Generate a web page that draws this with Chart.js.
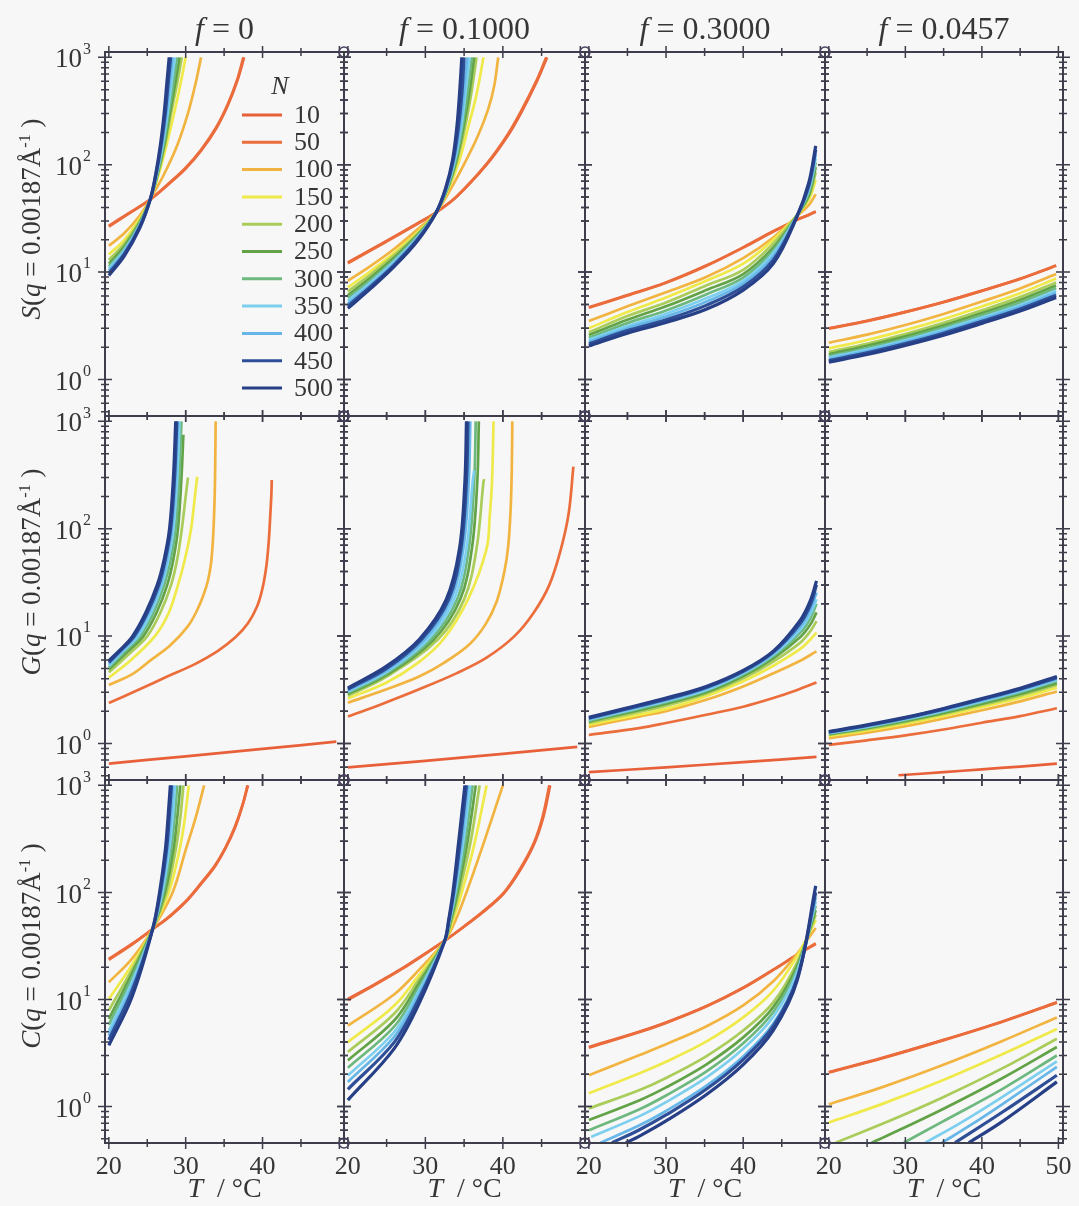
<!DOCTYPE html>
<html>
<head>
<meta charset="utf-8">
<title>S, G, C at q = 0.00187 vs T</title>
<script src="https://cdn.jsdelivr.net/npm/chart.js"></script>
<style>
    body { margin: 0; background: #f7f7f7; }
    #page {
        position: relative; width: 1079px; height: 1206px; overflow: hidden;
        font-family: "Liberation Serif", "DejaVu Serif", serif; color: #363636;
    }
    canvas.panel { position: absolute; }
    .txt { position: absolute; white-space: nowrap; line-height: 1; }
    .coltitle { font-size: 32px; top: 12px; transform: translateX(-50%); }
    .xtitle { font-size: 28px; top: 1174px; transform: translateX(-50%); }
    .ytitle { font-size: 27px; transform: translate(-50%, -50%) rotate(-90deg); }
    sup { font-size: 60%; }
</style>
</head>
<body>
<div id="page"></div>

<script>
// ---- data: one [T, value] list per N ----
const N_LIST = [10, 50, 100, 150, 200, 250, 300, 350, 400, 450, 500];
const F_LABELS = ['0', '0.1000', '0.3000', '0.0457'];
const ROW_LETTERS = ['S', 'G', 'C'];
const X_TICKS = [20, 25, 30, 35, 40, 45, 50];
const Y_MAJOR = [1, 10, 100, 1000];
const Y_EXP = ['0', '1', '2', '3'];
const Y_MINOR = [0.5, 0.6, 0.7, 0.8, 0.9, 2, 3, 4, 5, 6, 7, 8, 9,
                 20, 30, 40, 50, 60, 70, 80, 90, 200, 300, 400, 500, 600, 700, 800, 900];

// S, f = 0
const S_F0000 = [
    [[20,27],[22.5,35],[25.4,47.5],[28,68],[30,92],[32,135],[34,220],[35.5,360],[36.7,600],[37.6,1000]],
    [[20,26.5],[22.5,34.6],[25.4,47.5],[28,69],[30,94],[32,138],[34,225],[35.5,370],[36.7,620],[37.5,1000]],
    [[20,17.6],[22,23],[24,33.5],[25.4,48],[27.2,82],[28.9,152],[30.3,303],[31.3,578],[32,1000]],
    [[20,14.6],[22,19.9],[24,31.2],[25.4,48],[26.5,82],[27.5,152],[28.5,303],[29.35,578],[30,1000]],
    [[20,13],[22,18.3],[24,29.8],[25.4,48],[26.4,82],[27.3,152],[28.1,303],[28.9,578],[29.5,1000]],
    [[20,12],[22,17.3],[24,28.8],[25.4,48],[26.35,82],[27.2,152],[27.95,303],[28.65,578],[29.2,1000]],
    [[20,11.3],[22,16.5],[24,28],[25.4,48],[26.3,82],[27.1,152],[27.8,303],[28.4,578],[28.9,1000]],
    [[20,10.8],[22,15.9],[24,27.4],[25.4,48],[26.25,82],[27,152],[27.65,303],[28.15,578],[28.6,1000]],
    [[20,10.3],[22,15.3],[24,26.8],[25.4,48],[26.2,82],[26.9,152],[27.5,303],[27.93,578],[28.3,1000]],
    [[20,9.8],[22,14.7],[24,26.2],[25.4,48],[26.15,82],[26.8,152],[27.35,303],[27.72,578],[28.05,1000]],
    [[20,9.3],[22,14.1],[24,25.6],[25.4,48],[26.1,82],[26.7,152],[27.2,303],[27.55,578],[27.85,1000]]
];
// S, f = 0.1000
const S_F1000 = [
    [[20,12.3],[25,19.5],[29.2,29],[31.4,36],[34,50],[37.9,100],[40.5,180],[42.3,300],[44.4,600],[45.7,1000]],
    [[20,12.1],[25,19.3],[29.2,28.8],[31.4,36],[34,50.5],[37.9,102],[40.5,185],[42.3,310],[44.4,620],[45.6,1000]],
    [[20,8.3],[23,11.5],[26,16.5],[29,25],[31.4,36],[33.3,60],[34.9,98],[36.7,180],[38.1,328],[38.9,550],[39.4,1000]],
    [[20,7.2],[23,10.3],[26,15.2],[29,23.5],[31.4,36],[33,60],[34.4,110],[35.5,220],[36.6,450],[37.5,1000]],
    [[20,6.6],[23,9.6],[26,14.4],[29,22.8],[31.4,36],[32.9,60],[34.1,110],[35.1,220],[35.9,450],[36.6,1000]],
    [[20,6.1],[23,9.0],[26,13.7],[29,22.2],[31.4,36],[32.85,60],[34,110],[34.9,220],[35.65,450],[36.3,1000]],
    [[20,5.75],[23,8.5],[26,13.1],[29,21.7],[31.4,36],[32.8,60],[33.9,110],[34.75,220],[35.4,450],[36,1000]],
    [[20,5.4],[23,8.1],[26,12.6],[29,21.2],[31.4,36],[32.75,60],[33.8,110],[34.6,220],[35.15,450],[35.7,1000]],
    [[20,5.1],[23,7.7],[26,12.1],[29,20.7],[31.4,36],[32.7,60],[33.7,110],[34.45,220],[34.95,450],[35.4,1000]],
    [[20,4.85],[23,7.4],[26,11.7],[29,20.2],[31.4,36],[32.65,60],[33.6,110],[34.25,220],[34.7,450],[35,1000]],
    [[20,4.6],[23,7.1],[26,11.3],[29,19.6],[31.4,36],[32.6,60],[33.5,110],[34.05,220],[34.4,450],[34.7,1000]]
];
// S, f = 0.3000 (common T grid)
const S_F3000_T = [20, 25, 30, 35.2, 40, 43.9, 46.9, 48.5, 49.4];
const S_F3000_V = [
    [4.7, 6.1, 8, 11.5, 17, 24, 30.5, 34, 36.5],
    [4.65, 6.05, 7.95, 11.4, 16.9, 23.9, 30.6, 34.2, 36.8],
    [3.5, 4.8, 6.5, 9, 13.5, 21, 33, 42, 53],
    [3.0, 4.25, 5.8, 8.3, 12, 20, 33.5, 47, 72],
    [2.75, 3.9, 5.2, 7.5, 10.5, 18.5, 33.5, 50, 85],
    [2.6, 3.6, 4.8, 6.8, 9.6, 17, 33, 52, 95],
    [2.45, 3.35, 4.4, 6.2, 8.9, 16, 33, 55, 105],
    [2.35, 3.15, 4.1, 5.7, 8.3, 15, 33, 58, 115],
    [2.25, 3.0, 3.85, 5.3, 7.8, 14, 32.5, 61, 125],
    [2.15, 2.85, 3.6, 4.9, 7.3, 13, 32.5, 64, 138],
    [2.05, 2.7, 3.4, 4.5, 6.8, 12, 32, 68, 150]
];
// S, f = 0.0457
const S_F0457_T = [20, 25, 30, 35, 40, 45, 49.7];
const S_F0457_V = [
    [3.0, 3.52, 4.26, 5.27, 6.71, 8.67, 11.5],
    [2.98, 3.5, 4.24, 5.25, 6.69, 8.65, 11.45],
    [2.2, 2.62, 3.22, 4.08, 5.32, 7.05, 9.6],
    [1.95, 2.33, 2.88, 3.66, 4.79, 6.37, 8.71],
    [1.8, 2.15, 2.65, 3.37, 4.41, 5.85, 8.0],
    [1.72, 2.06, 2.52, 3.19, 4.16, 5.51, 7.5],
    [1.65, 1.96, 2.41, 3.04, 3.95, 5.22, 7.1],
    [1.6, 1.90, 2.32, 2.92, 3.78, 4.95, 6.7],
    [1.55, 1.84, 2.24, 2.81, 3.63, 4.75, 6.4],
    [1.5, 1.77, 2.16, 2.70, 3.48, 4.54, 6.1],
    [1.45, 1.71, 2.08, 2.59, 3.33, 4.34, 5.8]
];

// G, f = 0
const G_F0000 = [
    [[20,0.65],[30,0.76],[40,0.89],[49.6,1.04]],
    [[20,2.38],[24,3.2],[27.6,4.2],[31,5.4],[34.2,7.3],[36.5,9.8],[38.1,13.2],[39.3,19],[40,28],[40.5,45],[40.8,75],[41,130],[41.15,210],[41.2,284]],
    [[20,3.5],[23,4.4],[25.5,6.0],[28,8.2],[30.3,12.4],[31.5,17.5],[32.3,24],[32.9,33],[33.3,48],[33.55,80],[33.72,150],[33.82,300],[33.9,1000]],
    [[20,4.1],[23,6.1],[26,10],[27.8,16.5],[29,30],[29.9,52],[30.7,100],[31.2,200],[31.5,305]],
    [[20,4.6],[22.7,6.9],[25,10],[26.7,16.5],[28.1,30],[28.9,52],[29.5,100],[30,200],[30.3,300]],
    [[20,4.9],[22.4,7.1],[24.5,10],[26.2,16.5],[27.6,30],[28.4,52],[29,100],[29.45,300],[29.7,750]],
    [[20,5.1],[22.2,7.3],[24.1,10],[25.8,16.5],[27.2,30],[28.05,52],[28.7,100],[29.15,300],[29.45,1000]],
    [[20,5.3],[22,7.4],[23.8,10],[25.5,16.5],[26.9,30],[27.75,52],[28.4,100],[28.9,300],[29.2,1000]],
    [[20,5.5],[21.9,7.5],[23.5,10],[25.2,16.5],[26.7,30],[27.55,52],[28.2,100],[28.7,300],[29,1000]],
    [[20,5.7],[21.7,7.55],[23.3,10],[25,16.5],[26.5,30],[27.35,52],[28.05,100],[28.55,300],[28.85,1000]],
    [[20,5.9],[21.6,7.6],[23.1,10],[24.8,16.5],[26.3,30],[27.2,52],[27.9,100],[28.4,300],[28.7,1000]]
];
// G, f = 0.1000
const G_F1000 = [
    [[20,0.6],[30,0.69],[40,0.8],[49.6,0.93]],
    [[20,1.78],[24.5,2.35],[29.2,3.2],[34,4.5],[37.9,6.3],[41.5,10],[44,16.6],[46,30],[47.5,65],[48.5,140],[49.1,378]],
    [[20,2.4],[25,3.2],[29.2,4.2],[32.5,5.7],[35.7,8.4],[37.8,13],[39.2,21],[40.2,40],[40.7,70],[41,150],[41.15,350],[41.22,1000]],
    [[20,2.62],[25,3.7],[29,5.6],[32.3,9.3],[35.5,22],[37.9,65],[38.3,130],[38.6,274],[38.8,1000]],
    [[20,2.78],[25,4.2],[31.6,9.3],[35,22],[36.6,65],[37.5,274],[37.6,290]],
    [[20,2.88],[25,4.35],[31.1,9.3],[34.5,22],[36,65],[36.7,274],[36.9,1000]],
    [[20,2.97],[25,4.5],[30.7,9.3],[34.1,22],[35.6,65],[36.3,274],[36.5,1000]],
    [[20,3.05],[25,4.65],[30.3,9.3],[33.7,22],[35.3,65],[36.1,274],[36.3,350]],
    [[20,3.12],[25,4.8],[29.9,9.3],[33.3,22],[34.9,65],[35.6,274],[35.8,1000]],
    [[20,3.2],[25,5.0],[29.5,9.3],[33,22],[34.6,65],[35.3,274],[35.5,1000]],
    [[20,3.3],[24.9,5.2],[29.2,9.3],[32.7,22],[34.4,65],[35.1,274],[35.3,1000]]
];
// G, f = 0.3000
const G_F3000_T = [20, 30, 35.2, 40, 43.9, 47.4, 48.7, 49.5];
const G_F3000_LOW = [
    [[20,0.54],[30,0.6],[40,0.67],[49.5,0.75]],
    [[20,1.2],[26.5,1.39],[30,1.55],[35.2,1.85],[40,2.2],[43.9,2.65],[47,3.15],[49.5,3.7]],
    [[20,1.43],[26.5,1.78],[30,2.0],[35.2,2.55],[40,3.4],[43.9,4.5],[47,5.7],[49.5,7.2]]
];
const G_F3000_V = [
    [1.5, 2.1, 2.75, 3.8, 5.3, 7.6, 9.3, 10.8],
    [1.55, 2.25, 2.9, 4.05, 5.8, 8.7, 11.1, 13.8],
    [1.6, 2.35, 3.0, 4.25, 6.2, 9.8, 12.8, 16.6],
    [1.63, 2.42, 3.1, 4.4, 6.5, 10.8, 14.6, 20],
    [1.66, 2.48, 3.15, 4.5, 6.7, 11.5, 16, 22],
    [1.69, 2.53, 3.25, 4.6, 6.9, 12.3, 17.7, 25.5],
    [1.72, 2.58, 3.32, 4.7, 7.1, 13.2, 19.5, 30],
    [1.75, 2.65, 3.4, 4.8, 7.25, 14.1, 21.4, 32.7]
];
// G, f = 0.0457
const G_F0457_T = [20, 25, 30, 35, 40, 45, 49.8];
const G_F0457_N10 = [[29.1,0.506],[35,0.54],[40,0.575],[45,0.61],[49.8,0.65]];
const G_F0457_V = [
    [0.97, 1.07, 1.19, 1.35, 1.56, 1.80, 2.13],
    [1.12, 1.26, 1.45, 1.71, 2.04, 2.47, 3.05],
    [1.17, 1.32, 1.53, 1.81, 2.18, 2.65, 3.3],
    [1.2, 1.36, 1.58, 1.88, 2.28, 2.79, 3.5],
    [1.22, 1.39, 1.62, 1.93, 2.35, 2.90, 3.65],
    [1.24, 1.42, 1.66, 1.99, 2.43, 3.01, 3.8],
    [1.25, 1.43, 1.68, 2.01, 2.47, 3.07, 3.9],
    [1.26, 1.45, 1.70, 2.05, 2.52, 3.14, 4.0],
    [1.28, 1.47, 1.73, 2.09, 2.58, 3.21, 4.1],
    [1.29, 1.49, 1.75, 2.12, 2.62, 3.27, 4.2]
];

// C, f = 0
const C_F0000 = [
    [[20,23.9],[23,33],[25.7,45.4],[28,60],[30.3,86],[32,120],[33.8,175],[35.2,260],[36.4,400],[37.4,650],[38.1,1000]],
    [[20,23.5],[23,32.6],[25.7,45.4],[28,61],[30.3,87],[32,122],[33.8,178],[35.2,265],[36.4,410],[37.4,660],[38.05,1000]],
    [[20,14.5],[23,24],[25.7,45.4],[28.3,100],[30,250],[31.3,500],[32.4,1000]],
    [[20,10.1],[23,21],[25.7,45.4],[27.8,100],[29.2,250],[29.9,500],[30.4,1000]],
    [[20,7.9],[23,19],[25.7,45.4],[27.5,100],[28.7,250],[29.3,500],[29.7,1000]],
    [[20,6.6],[23,17.5],[25.7,45.4],[27.3,100],[28.4,250],[28.9,500],[29.3,1000]],
    [[20,5.8],[23,16],[25.7,45.4],[27.1,100],[28.1,250],[28.55,500],[28.9,1000]],
    [[20,5.1],[23,14.5],[25.7,45.4],[26.95,100],[27.85,250],[28.3,500],[28.6,1000]],
    [[20,4.6],[23,13],[25.7,45.4],[26.8,100],[27.65,250],[28.05,500],[28.35,1000]],
    [[20,4.2],[23,12],[25.7,45.4],[26.7,100],[27.5,250],[27.85,500],[28.15,1000]],
    [[20,3.73],[23,10.5],[25.7,45.4],[26.6,100],[27.35,250],[27.7,500],[28,1000]]
];
// C, f = 0.1000
const C_F1000 = [
    [[20,10.1],[23.5,13.9],[27,19.5],[30,26.9],[32.5,35.4],[35,47.8],[37.5,65.9],[40.1,97.5],[42.2,160],[44,280],[45.2,500],[46.1,1000]],
    [[20,9.9],[23.5,13.7],[27,19.3],[30,26.7],[32.5,35.4],[35,48.3],[37.5,67],[40.1,99],[42.2,165],[44,290],[45.1,500],[46,1000]],
    [[20,5.7],[26,11.2],[29.2,19],[32.5,35.4],[33.9,55],[35.3,100],[37.6,300],[40,1000]],
    [[20,4.0],[26,8.8],[29.2,17],[32.5,35.4],[33.55,55],[34.7,100],[36.4,300],[37.9,1000]],
    [[20,3.24],[26,7.4],[29.2,15.5],[32.5,35.4],[33.4,55],[34.35,100],[35.85,300],[37,1000]],
    [[20,2.7],[26,6.4],[29.2,14.3],[32.5,35.4],[33.3,55],[34.15,100],[35.45,300],[36.5,1000]],
    [[20,2.3],[26,5.6],[29.2,13.2],[32.5,35.4],[33.2,55],[34,100],[35.15,300],[36.1,1000]],
    [[20,1.95],[26,5.0],[29.2,12.2],[32.5,35.4],[33.15,55],[33.85,100],[34.9,300],[35.8,1000]],
    [[20,1.7],[26,4.5],[29.2,11.2],[32.5,35.4],[33.1,55],[33.75,100],[34.7,300],[35.5,1000]],
    [[20,1.45],[26,4.0],[29.2,10.3],[32.5,35.4],[33.05,55],[33.65,100],[34.5,300],[35.3,1000]],
    [[20,1.15],[26,3.5],[29.2,9.2],[32.5,35.4],[33,55],[33.55,100],[34.3,300],[35.1,1000]]
];
// C, f = 0.3000
const C_F3000_T = [26.5, 30, 35.2, 40, 43.9, 47, 49.4];
const C_F3000_START = [[20,3.6],[20,3.55],[20,1.96],[20,1.33],[20,0.96],[20,0.75],[20,0.6],[20.3,0.52],[21.5,0.46],[23,0.46],[24.8,0.46]];
const C_F3000_V = [
    [5.0, 6.1, 8.65, 12.9, 19, 26.2, 33],
    [4.95, 6.05, 8.6, 12.8, 18.9, 26.3, 33.5],
    [3.02, 3.82, 5.6, 8.8, 14.8, 26.8, 46.6],
    [2.04, 2.62, 4.04, 6.8, 12.1, 25.5, 55],
    [1.42, 1.85, 2.95, 5.13, 9.4, 22.2, 62],
    [1.14, 1.51, 2.47, 4.43, 8.5, 20.7, 68],
    [0.94, 1.27, 2.12, 3.9, 7.65, 19.4, 75],
    [0.81, 1.10, 1.86, 3.46, 6.9, 18.1, 82],
    [0.665, 0.91, 1.56, 2.94, 5.97, 16.2, 90],
    [0.605, 0.835, 1.45, 2.75, 5.64, 15.9, 100],
    [0.527, 0.734, 1.29, 2.47, 5.16, 15.1, 115]
];
// C, f = 0.0457
const C_F0457 = [
    [[20,2.1],[27,2.85],[34.8,4.15],[42.6,6.2],[49.8,9.4]],
    [[20,2.08],[27,2.83],[34.8,4.13],[42.6,6.17],[49.8,9.35]],
    [[20,1.05],[27,1.52],[34.8,2.43],[42.6,4.08],[49.8,6.8]],
    [[20,0.71],[27,1.06],[34.8,1.75],[42.6,3.06],[49.8,5.3]],
    [[20.9,0.46],[27,0.69],[34.8,1.21],[42.6,2.26],[49.8,4.3]],
    [[25.6,0.46],[27,0.51],[34.8,0.94],[42.6,1.83],[49.8,3.6]],
    [[29.8,0.46],[34.8,0.72],[42.6,1.45],[49.8,3.0]],
    [[32.6,0.46],[37,0.69],[42.6,1.22],[49.8,2.65]],
    [[34.8,0.46],[38.5,0.67],[42.6,1.045],[49.8,2.35]],
    [[36.5,0.46],[42.6,0.88],[49.8,1.96]],
    [[38.3,0.46],[42.6,0.72],[49.8,1.7]]
];

// ---- styling and layout ----
const COLORS = ['#e8603a', '#eb6d3b', '#f2b441', '#efea4a', '#a9cc5a', '#62a347',
                '#6db87e', '#7dcfef', '#66b6e8', '#2e4f97', '#263f86'];
const WIDTHS = [2.7, 2.7, 2.7, 2.7, 2.7, 2.7, 2.7, 2.7, 2.7, 3.2, 3.2];
const FRAME = '#3d3d4b';
const TEXT = '#363636';
const FONT = '"Liberation Serif", "DejaVu Serif", serif';
const X_MIN = 19.5, X_MAX = 50.6;
const Y_MIN = 0.457, Y_MAX = 1122;
const COL_LEFT = [105, 344, 585, 825];
const COL_RIGHT = [344, 585, 825, 1063];
const ROW_TOP = [52, 416, 780];
const ROW_BOTTOM = [416, 780, 1143];
const YTITLE_MID = [219, 572, 946];

function onGrid(ts, rows) {
    return rows.map(vs => vs.map((v, k) => [ts[k], v]));
}

const PANELS = [
    [S_F0000, S_F1000, onGrid(S_F3000_T, S_F3000_V), onGrid(S_F0457_T, S_F0457_V)],
    [G_F0000, G_F1000, G_F3000_LOW.concat(onGrid(G_F3000_T, G_F3000_V)),
     [G_F0457_N10].concat(onGrid(G_F0457_T, G_F0457_V))],
    [C_F0000, C_F1000,
     onGrid(C_F3000_T, C_F3000_V).map((pts, i) => [C_F3000_START[i]].concat(pts)),
     C_F0457]
];

const framePlugin = {
    id: 'frame',
    afterDraw(chart, args, opts) {
        const { ctx, chartArea: a } = chart;
        const xs = chart.scales.x, ys = chart.scales.y;
        ctx.save();
        ctx.strokeStyle = FRAME;
        ctx.lineWidth = 2;
        ctx.strokeRect(a.left, a.top, a.right - a.left, a.bottom - a.top);

        ctx.lineWidth = 1.5;
        const yTick = (v, len) => {
            const py = ys.getPixelForValue(v);
            if (py < a.top - 1 || py > a.bottom + 1) return;
            ctx.beginPath();
            ctx.moveTo(a.left - len, py); ctx.lineTo(a.left + len, py);
            ctx.moveTo(a.right - len, py); ctx.lineTo(a.right + len, py);
            ctx.stroke();
        };
        Y_MINOR.forEach(v => yTick(v, 4));
        Y_MAJOR.forEach(v => yTick(v, 7));
        X_TICKS.forEach(v => {
            const px = xs.getPixelForValue(v);
            const len = v % 10 === 0 ? 6 : 4;
            ctx.beginPath();
            ctx.moveTo(px, a.top - len); ctx.lineTo(px, a.top + len);
            ctx.moveTo(px, a.bottom - len); ctx.lineTo(px, a.bottom + len);
            ctx.stroke();
        });

        if (opts.col > 0) {
            ctx.strokeStyle = '#4b3f5f';
            ctx.lineWidth = 1.5;
            [a.top, a.bottom].forEach(py => {
                ctx.beginPath();
                ctx.arc(a.left, py, 5, 0, Math.PI * 2);
                ctx.stroke();
            });
        }

        if (opts.col === 0) {
            ctx.fillStyle = TEXT;
            ctx.textBaseline = 'middle';
            Y_MAJOR.forEach((v, k) => {
                const py = ys.getPixelForValue(v);
                const right = a.left - 14;
                ctx.font = '16px ' + FONT;
                const supW = ctx.measureText(Y_EXP[k]).width;
                ctx.textAlign = 'left';
                ctx.fillText(Y_EXP[k], right - supW, py - 8);
                ctx.font = '27px ' + FONT;
                ctx.textAlign = 'right';
                ctx.fillText('10', right - supW - 1, py + 3);
            });
        }
        ctx.restore();
    }
};

const legendPlugin = {
    id: 'nLegend',
    afterDraw(chart) {
        const { ctx, chartArea: a } = chart;
        ctx.save();
        ctx.fillStyle = TEXT;
        ctx.textBaseline = 'middle';
        ctx.textAlign = 'center';
        ctx.font = 'italic 26px ' + FONT;
        ctx.fillText('N', a.left + 175, a.top + 35);
        ctx.font = '26px ' + FONT;
        ctx.textAlign = 'left';
        chart.data.datasets.forEach((ds, i) => {
            const yy = a.top + 63 + 27.3 * i;
            ctx.strokeStyle = ds.borderColor;
            ctx.lineWidth = 3;
            ctx.beginPath();
            ctx.moveTo(a.left + 137, yy);
            ctx.lineTo(a.left + 177, yy);
            ctx.stroke();
            ctx.fillText(ds.label, a.left + 189, yy + 1);
        });
        ctx.restore();
    }
};

const page = document.getElementById('page');

function addText(cls, html, left, top) {
    const d = document.createElement('div');
    d.className = 'txt ' + cls;
    d.innerHTML = html;
    d.style.left = left + 'px';
    d.style.top = top + 'px';
    page.appendChild(d);
}

for (let r = 0; r < 3; r++) {
    for (let c = 0; c < 4; c++) {
        const padL = c === 0 ? 105 : 20, padR = 20, padT = 20;
        const padB = r === 2 ? 60 : 20;
        const w = COL_RIGHT[c] - COL_LEFT[c], h = ROW_BOTTOM[r] - ROW_TOP[r];
        const canvas = document.createElement('canvas');
        canvas.className = 'panel';
        canvas.width = w + padL + padR;
        canvas.height = h + padT + padB;
        canvas.style.left = (COL_LEFT[c] - padL) + 'px';
        canvas.style.top = (ROW_TOP[r] - padT) + 'px';
        page.appendChild(canvas);

        const datasets = PANELS[r][c].map((pts, i) => ({
            label: String(N_LIST[i]),
            data: pts.map(p => ({ x: p[0], y: p[1] })),
            borderColor: COLORS[i],
            borderWidth: WIDTHS[i],
            pointRadius: 0,
            fill: false,
            order: N_LIST.length - i
        }));

        new Chart(canvas, {
            type: 'line',
            data: { datasets },
            options: {
                responsive: false,
                animation: false,
                events: [],
                layout: { padding: { top: padT, right: padR, left: 0, bottom: 0 } },
                elements: { line: { tension: 0.35, cubicInterpolationMode: 'default' } },
                plugins: {
                    legend: { display: false },
                    tooltip: { enabled: false },
                    frame: { col: c, row: r }
                },
                scales: {
                    x: {
                        type: 'linear', min: X_MIN, max: X_MAX,
                        grid: { display: false, drawTicks: false },
                        border: { display: false },
                        ticks: {
                            display: r === 2, autoSkip: false, maxRotation: 0, padding: 9,
                            color: TEXT, font: { family: FONT, size: 26 },
                            callback: v => (v % 10 === 0 && (v < 50 || c === 3)) ? String(v) : ''
                        },
                        afterBuildTicks: s => { s.ticks = X_TICKS.map(v => ({ value: v })); },
                        afterFit: s => { s.height = padB; }
                    },
                    y: {
                        type: 'logarithmic', min: Y_MIN, max: Y_MAX,
                        grid: { display: false, drawTicks: false },
                        border: { display: false },
                        ticks: { display: false },
                        afterBuildTicks: s => { s.ticks = Y_MAJOR.map(v => ({ value: v })); },
                        afterFit: s => { s.width = padL; }
                    }
                }
            },
            plugins: r === 0 && c === 0 ? [framePlugin, legendPlugin] : [framePlugin]
        });
    }
}

// column titles, axis titles
F_LABELS.forEach((f, c) => {
    const mid = (COL_LEFT[c] + COL_RIGHT[c]) / 2;
    addText('coltitle', '<i>f</i> = ' + f, mid, 12);
    addText('xtitle', '<i>T</i>&nbsp; / °C', mid, 1174);
});
ROW_LETTERS.forEach((s, r) => {
    addText('ytitle', '<i>' + s + '</i>(<i>q</i> = 0.00187Å<sup>-1</sup> )', 31, YTITLE_MID[r]);
});
</script>
</body>
</html>
